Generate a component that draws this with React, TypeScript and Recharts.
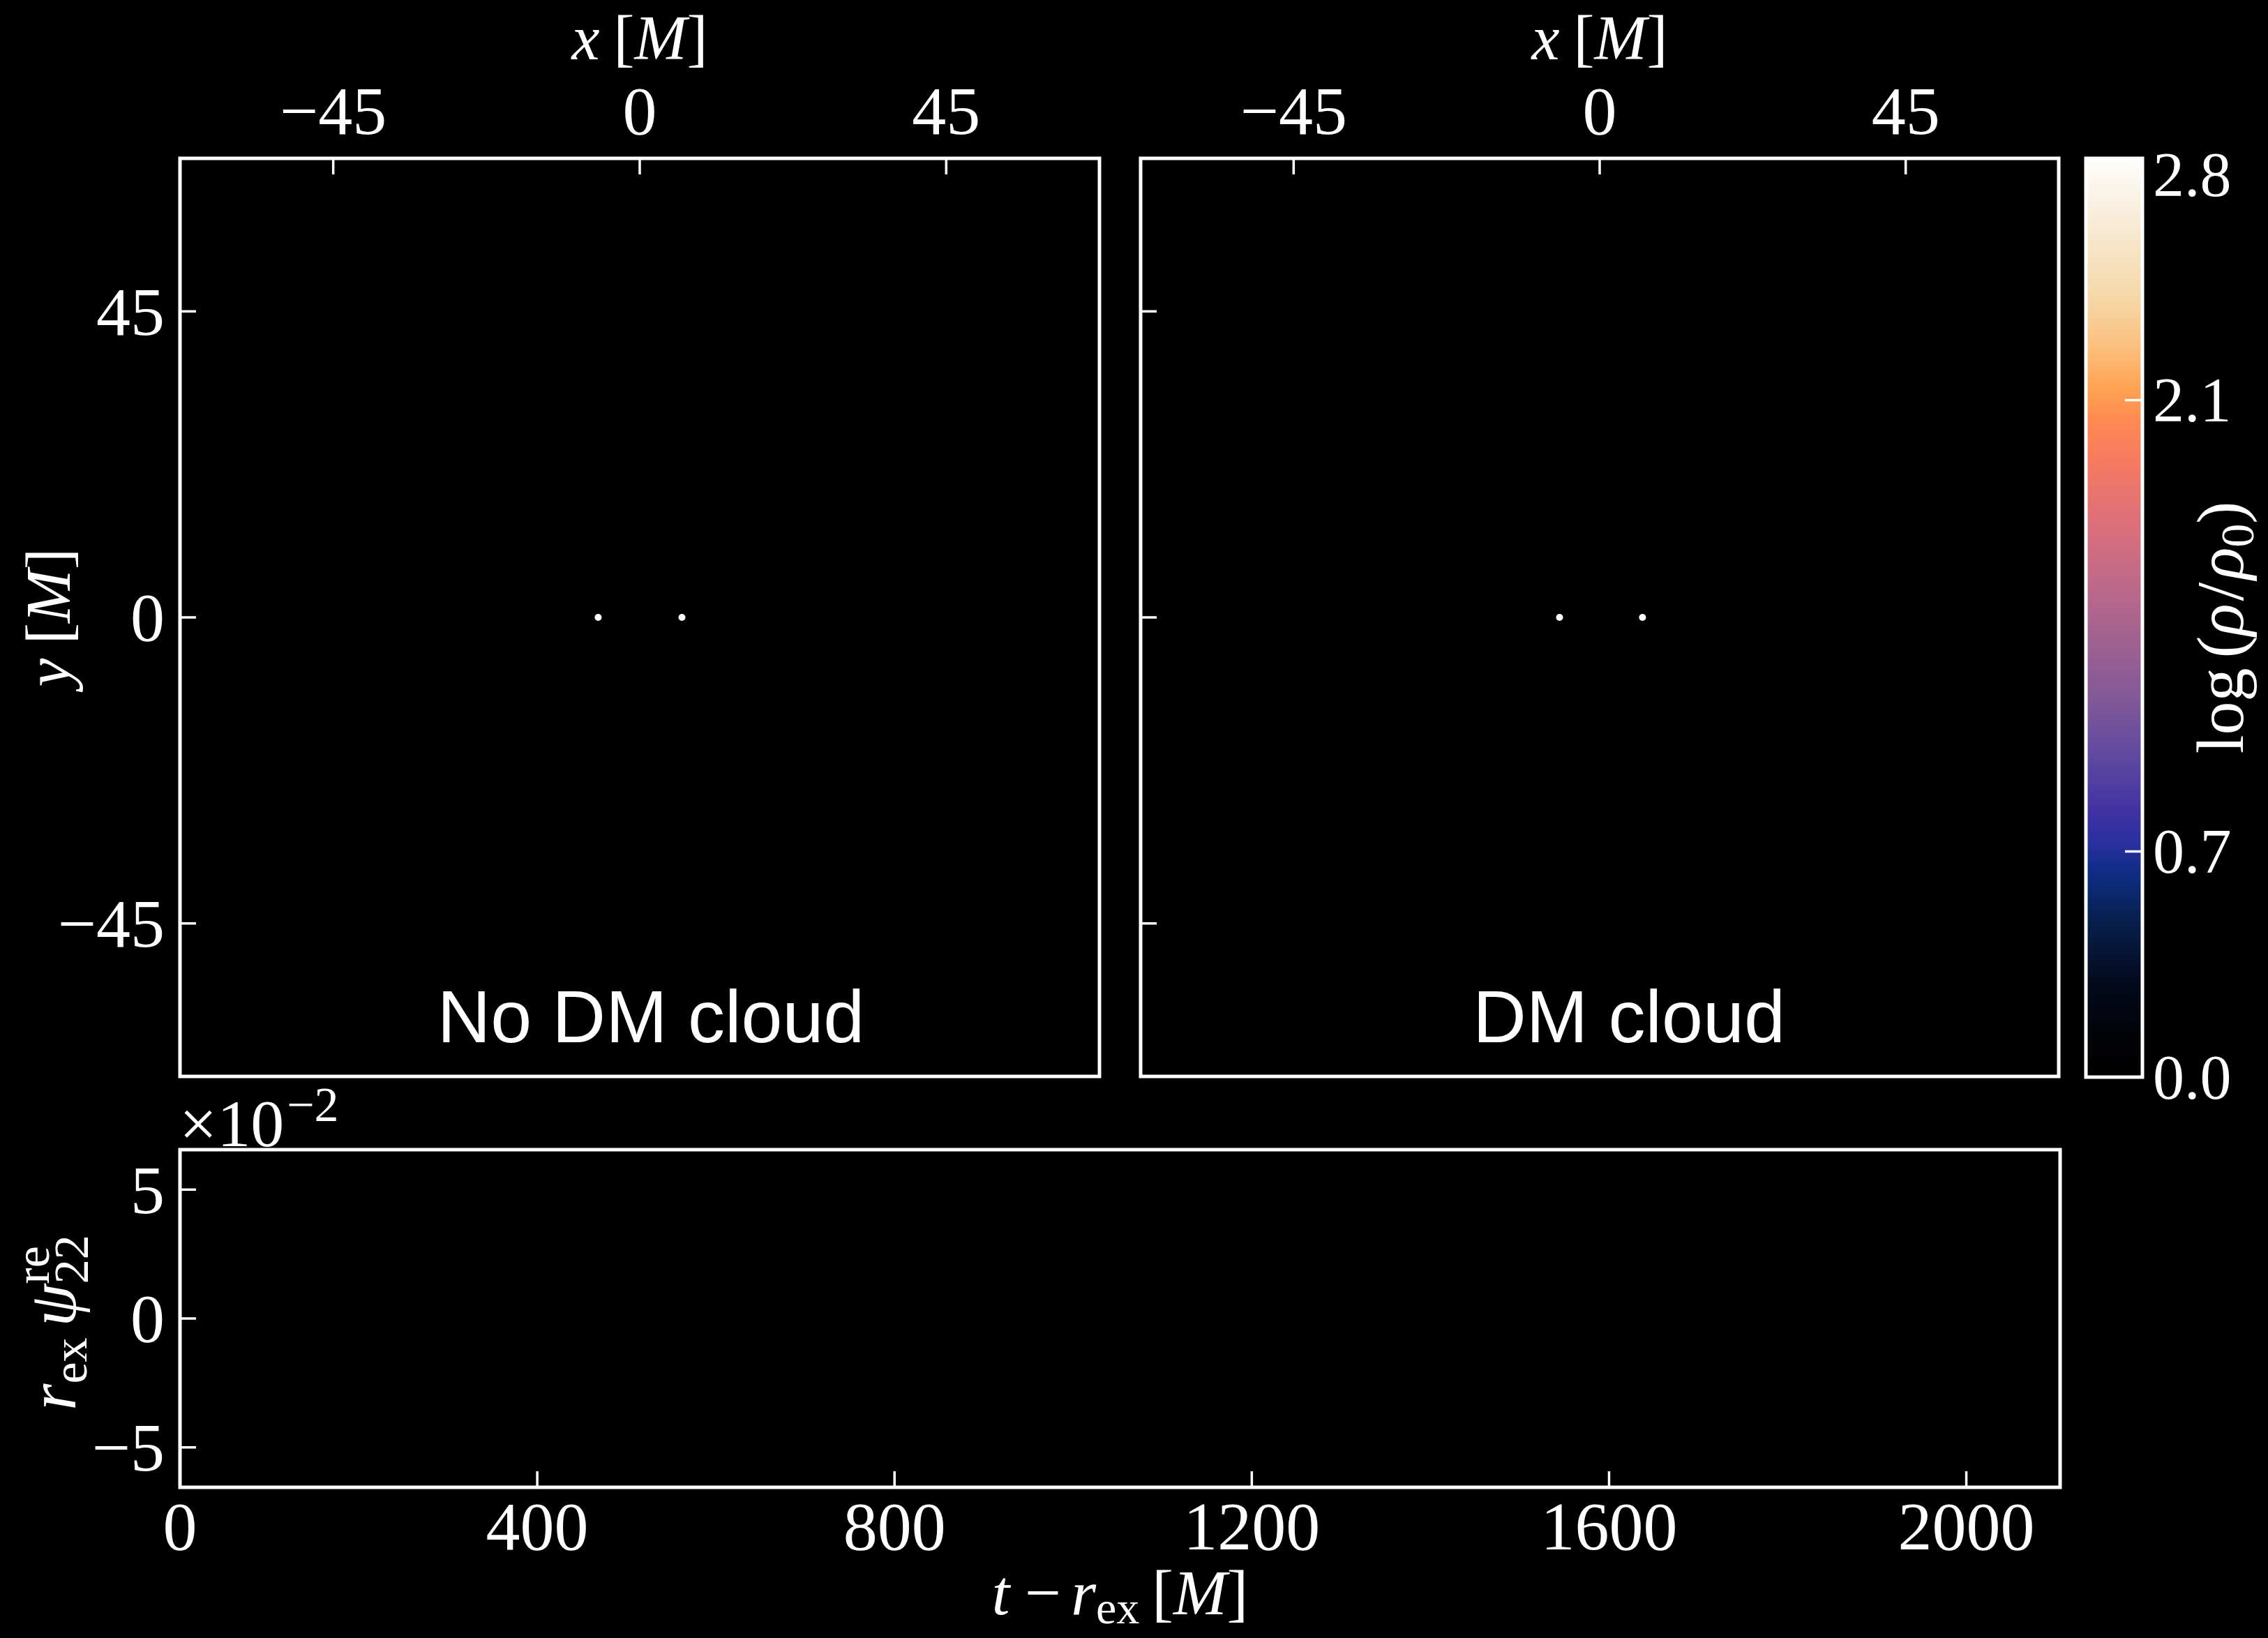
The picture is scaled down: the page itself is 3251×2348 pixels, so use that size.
import React from 'react';
import {
  ScatterChart,
  Scatter,
  LineChart,
  Line,
  ComposedChart,
  XAxis,
  YAxis,
  ReferenceArea,
} from 'recharts';

// ---------- canvas ----------
const W = 3251;
const H = 2348;

const SERIF = "'Liberation Serif', 'Times New Roman', Times, serif";
const SANS = "'Liberation Sans', Arial, Helvetica, sans-serif";
const WHITE = '#ffffff';

// ---------- data ----------
// black-hole positions on the orbital plane [M]
const noCloudX = [-6.1, 6.2];
const noCloudY = [0, 0];
const cloudX = [-5.9, 6.3];
const cloudY = [0, 0];
const panelTitles = ['No DM cloud', 'DM cloud'];

// density maps: square window, same ticks on both axes
const mapExtent = 67.5;
const mapTicks = [-45, 0, 45];

// extracted waveform r_ex * psi22 (real part) -- nothing recorded yet at this frame
const waveTime: number[] = [];
const waveRe: number[] = [];
const timeMax = 2105;
const timeTicks = [0, 400, 800, 1200, 1600, 2000];
const waveExtent = 0.0655;
const waveTicks = [-0.05, 0, 0.05];
const waveScale = 100; // tick labels are shown in units of 10^-2

// colour bar for log(rho / rho0)
const cbarMax = 2.85;
const cbarTicks = [0.0, 0.7, 2.1, 2.8];
const cbarTickMarks = [0.7, 2.1];

// ---------- layout (pixel boxes of the plotting areas) ----------
const MAP_TOP = 227;
const MAP_BOTTOM = 1543;
const MAP1_LEFT = 258;
const MAP1_RIGHT = 1576;
const MAP2_LEFT = 1635;
const MAP2_RIGHT = 2951;
const CB_LEFT = 2990;
const CB_RIGHT = 3071;
const CB_BOTTOM = 1544;
const WAVE_TOP = 1648;
const WAVE_BOTTOM = 2132;
const WAVE_LEFT = 258;
const WAVE_RIGHT = 2953;
const AXIS_PX = 1; // axes keep a 1px band so that they are drawn

const FRAME_W = 5;
const TICK_LEN = 23;
const TICK_W = 3.5;
const TICK_FS = 98;
const TITLE_FS = 92;
const SUB_FS = 66;

// colour map of the density (top of the bar = highest density)
const cbarStops: [number, string][] = [
  [0.0, '#fefefc'],
  [0.05, '#f9f0e2'],
  [0.15, '#f5d8a8'],
  [0.205, '#fcc07e'],
  [0.25, '#ffa352'],
  [0.285, '#ff8a52'],
  [0.33, '#f57a60'],
  [0.39, '#e07078'],
  [0.455, '#c26a88'],
  [0.52, '#a26290'],
  [0.59, '#815898'],
  [0.655, '#5c48a0'],
  [0.71, '#4232a2'],
  [0.745, '#2830a0'],
  [0.78, '#0e2c82'],
  [0.83, '#08204e'],
  [0.895, '#040a1e'],
  [0.96, '#010205'],
  [1.0, '#000000'],
];

// ---------- helpers ----------
const signed = (v: number) => {
  const n = Math.round(v * 1000) / 1000;
  return n < 0 ? '\u2212' + Math.abs(n) : String(n);
};

const toPoints = (xs: number[], ys: number[]) => xs.map((x, i) => ({ x, y: ys[i] }));

const Layer = ({ children }: { children: React.ReactNode }) => (
  <div style={{ position: 'absolute', left: 0, top: 0, width: W, height: H }}>{children}</div>
);

// ---------- ticks (drawn inward, matplotlib style) ----------
function TopTick(props: any) {
  const { x, y, payload, showLabel = true } = props;
  return (
    <g>
      <line x1={x} y1={y} x2={x} y2={y + TICK_LEN} stroke={WHITE} strokeWidth={TICK_W} />
      {showLabel && (
        <text x={x} y={y - 35} textAnchor="middle" fill={WHITE} fontFamily={SERIF} fontSize={TICK_FS}>
          {signed(payload.value)}
        </text>
      )}
    </g>
  );
}

function BottomTick(props: any) {
  const { x, y, payload } = props;
  return (
    <g>
      <line x1={x} y1={y} x2={x} y2={y - TICK_LEN} stroke={WHITE} strokeWidth={TICK_W} />
      <text x={x} y={y + 89} textAnchor="middle" fill={WHITE} fontFamily={SERIF} fontSize={TICK_FS}>
        {signed(payload.value)}
      </text>
    </g>
  );
}

function LeftTick(props: any) {
  const { x, y, payload, showLabel = true, scale = 1 } = props;
  return (
    <g>
      <line x1={x} y1={y} x2={x + TICK_LEN} y2={y} stroke={WHITE} strokeWidth={TICK_W} />
      {showLabel && (
        <text x={x - 22} y={y} dy="0.34em" textAnchor="end" fill={WHITE} fontFamily={SERIF} fontSize={TICK_FS}>
          {signed(payload.value * scale)}
        </text>
      )}
    </g>
  );
}

function ColorbarTick(props: any) {
  const { x, y, payload } = props;
  const v = payload.value as number;
  return (
    <g>
      {cbarTickMarks.includes(v) && (
        <line x1={x - 25} y1={y} x2={x} y2={y} stroke={WHITE} strokeWidth={TICK_W} />
      )}
      <text x={x + 15} y={y} dy="0.34em" textAnchor="start" fill={WHITE} fontFamily={SERIF} fontSize={90}>
        {v.toFixed(1)}
      </text>
    </g>
  );
}

// ---------- axis titles ----------
const xMTitle = (props: any) => {
  const vb = props.viewBox || {};
  const cx = (vb.x ?? 0) + (vb.width ?? 0) / 2;
  return (
    <text x={cx} y={85} textAnchor="middle" fill={WHITE} fontFamily={SERIF} fontSize={90}>
      <tspan fontStyle="italic">x</tspan>
      <tspan dx={20}>[</tspan>
      <tspan fontStyle="italic">M</tspan>
      <tspan>]</tspan>
    </text>
  );
};

const yMTitle = (props: any) => {
  const vb = props.viewBox || {};
  const cy = (vb.y ?? 0) + (vb.height ?? 0) / 2;
  return (
    <text transform={`translate(100, ${cy}) rotate(-90)`} textAnchor="middle" fill={WHITE} fontFamily={SERIF} fontSize={TITLE_FS}>
      <tspan fontStyle="italic">y</tspan>
      <tspan dx={20}>[</tspan>
      <tspan fontStyle="italic">M</tspan>
      <tspan>]</tspan>
    </text>
  );
};

const timeTitle = (props: any) => {
  const vb = props.viewBox || {};
  const cx = (vb.x ?? 0) + (vb.width ?? 0) / 2;
  return (
    <text x={cx} y={2314} textAnchor="middle" fill={WHITE} fontFamily={SERIF} fontSize={TITLE_FS}>
      <tspan fontStyle="italic">t</tspan>
      <tspan dx={22}>{'\u2212'}</tspan>
      <tspan dx={14} fontStyle="italic">r</tspan>
      <tspan fontSize={SUB_FS} dy={13}>ex</tspan>
      <tspan dx={18} dy={-13}>[</tspan>
      <tspan fontStyle="italic">M</tspan>
      <tspan>]</tspan>
    </text>
  );
};

const waveTitle = (props: any) => {
  const vb = props.viewBox || {};
  const cy = (vb.y ?? 0) + (vb.height ?? 0) / 2 + 6;
  return (
    <g>
      <text transform={`translate(108, ${cy}) rotate(-90)`} textAnchor="middle" fill={WHITE} fontFamily={SERIF} fontSize={98}>
        <tspan fontStyle="italic">r</tspan>
        <tspan fontSize={70} dy={16}>ex</tspan>
        <tspan dx={16} dy={-16} fontStyle="italic">{'\u03C8'}</tspan>
        <tspan fontSize={70} dy={-38}>re</tspan>
        <tspan fontSize={70} dx={-54} dy={56}>22</tspan>
      </text>
      <text x={257} y={1643} fill={WHITE} fontFamily={SERIF} fontSize={96}>
        {'\u00D710'}
        <tspan fontSize={70} dx={4} dy={-36}>{'\u22122'}</tspan>
      </text>
    </g>
  );
};

const cbarTitle = (props: any) => {
  const vb = props.viewBox || {};
  const cy = (vb.y ?? 0) + (vb.height ?? 0) / 2 + 14;
  return (
    <text transform={`translate(3215, ${cy}) rotate(-90)`} textAnchor="middle" fill={WHITE} fontFamily={SERIF} fontSize={96}>
      <tspan>log</tspan>
      <tspan dx={14}>(</tspan>
      <tspan fontStyle="italic">{'\u03C1'}</tspan>
      <tspan dx={4}>/</tspan>
      <tspan dx={4} fontStyle="italic">{'\u03C1'}</tspan>
      <tspan fontSize={68} dy={15}>0</tspan>
      <tspan dy={-15}>)</tspan>
    </text>
  );
};

const BlackHoleDot = (p: any) => <circle cx={p.cx} cy={p.cy} r={5} fill={WHITE} />;

// ---------- density-map panel ----------
function MapPanel(props: {
  left: number;
  right: number;
  xs: number[];
  ys: number[];
  title: string;
  titleX: number;
  showYLabels: boolean;
}) {
  const { left, right, xs, ys, title, titleX, showYLabels } = props;
  const titleContent = () => (
    <text x={titleX} y={1494} textAnchor="middle" fill={WHITE} fontFamily={SANS} fontSize={106}>
      {title}
    </text>
  );
  return (
    <Layer>
      <ScatterChart
        width={W}
        height={H}
        margin={{
          top: MAP_TOP - AXIS_PX,
          bottom: H - MAP_BOTTOM,
          left: left - AXIS_PX,
          right: W - right,
        }}
      >
        <XAxis
          type="number"
          dataKey="x"
          orientation="top"
          domain={[-mapExtent, mapExtent]}
          ticks={mapTicks}
          allowDataOverflow
          height={AXIS_PX}
          axisLine={false}
          tickLine={false}
          tickSize={0}
          tickMargin={0}
          interval={0}
          tick={<TopTick />}
          label={xMTitle}
        />
        <YAxis
          type="number"
          dataKey="y"
          domain={[-mapExtent, mapExtent]}
          ticks={mapTicks}
          allowDataOverflow
          width={AXIS_PX}
          axisLine={false}
          tickLine={false}
          tickSize={0}
          tickMargin={0}
          interval={0}
          tick={<LeftTick showLabel={showYLabels} />}
          label={showYLabels ? yMTitle : undefined}
        />
        <ReferenceArea
          x1={-mapExtent}
          x2={mapExtent}
          y1={-mapExtent}
          y2={mapExtent}
          fill="none"
          fillOpacity={0}
          stroke={WHITE}
          strokeWidth={FRAME_W}
          strokeOpacity={1}
          ifOverflow="visible"
          label={titleContent}
        />
        <Scatter data={toPoints(xs, ys)} isAnimationActive={false} shape={BlackHoleDot} />
      </ScatterChart>
    </Layer>
  );
}

// ---------- colour bar ----------
function Colorbar() {
  return (
    <Layer>
      <ComposedChart
        width={W}
        height={H}
        data={[]}
        margin={{ top: MAP_TOP, bottom: H - CB_BOTTOM, left: CB_LEFT, right: W - CB_RIGHT - AXIS_PX }}
      >
        <defs>
          <linearGradient id="densityMap" x1="0" y1="0" x2="0" y2="1">
            {cbarStops.map(([o, c]) => (
              <stop key={o} offset={o} stopColor={c} />
            ))}
          </linearGradient>
        </defs>
        <XAxis type="number" dataKey="u" domain={[0, 1]} allowDataOverflow hide height={0} />
        <YAxis
          type="number"
          orientation="right"
          domain={[0, cbarMax]}
          ticks={cbarTicks}
          allowDataOverflow
          width={AXIS_PX}
          axisLine={false}
          tickLine={false}
          tickSize={0}
          tickMargin={0}
          interval={0}
          tick={<ColorbarTick />}
          label={cbarTitle}
        />
        <ReferenceArea
          x1={0}
          x2={1}
          y1={0}
          y2={cbarMax}
          fill="url(#densityMap)"
          fillOpacity={1}
          stroke={WHITE}
          strokeWidth={FRAME_W}
          strokeOpacity={1}
          ifOverflow="visible"
        />
      </ComposedChart>
    </Layer>
  );
}

// ---------- waveform panel ----------
function WavePanel() {
  const data = waveTime.map((t, i) => ({ t, v: waveRe[i] }));
  return (
    <Layer>
      <LineChart
        width={W}
        height={H}
        data={data}
        margin={{
          top: WAVE_TOP,
          bottom: H - WAVE_BOTTOM - AXIS_PX,
          left: WAVE_LEFT - AXIS_PX,
          right: W - WAVE_RIGHT,
        }}
      >
        <XAxis
          type="number"
          dataKey="t"
          domain={[0, timeMax]}
          ticks={timeTicks}
          allowDataOverflow
          height={AXIS_PX}
          axisLine={false}
          tickLine={false}
          tickSize={0}
          tickMargin={0}
          interval={0}
          tick={<BottomTick />}
          label={timeTitle}
        />
        <YAxis
          type="number"
          domain={[-waveExtent, waveExtent]}
          ticks={waveTicks}
          allowDataOverflow
          width={AXIS_PX}
          axisLine={false}
          tickLine={false}
          tickSize={0}
          tickMargin={0}
          interval={0}
          tick={<LeftTick scale={waveScale} />}
          label={waveTitle}
        />
        <ReferenceArea
          x1={0}
          x2={timeMax}
          y1={-waveExtent}
          y2={waveExtent}
          fill="none"
          fillOpacity={0}
          stroke={WHITE}
          strokeWidth={FRAME_W}
          strokeOpacity={1}
          ifOverflow="visible"
        />
        <Line dataKey="v" stroke={WHITE} strokeWidth={3} dot={false} isAnimationActive={false} />
      </LineChart>
    </Layer>
  );
}

export default function App() {
  return (
    <div
      style={{
        position: 'absolute',
        left: 0,
        top: 0,
        width: W,
        height: H,
        background: '#000000',
        overflow: 'hidden',
      }}
    >
      <MapPanel
        left={MAP1_LEFT}
        right={MAP1_RIGHT}
        xs={noCloudX}
        ys={noCloudY}
        title={panelTitles[0]}
        titleX={933}
        showYLabels
      />
      <MapPanel
        left={MAP2_LEFT}
        right={MAP2_RIGHT}
        xs={cloudX}
        ys={cloudY}
        title={panelTitles[1]}
        titleX={2335}
        showYLabels={false}
      />
      <Colorbar />
      <WavePanel />
    </div>
  );
}
